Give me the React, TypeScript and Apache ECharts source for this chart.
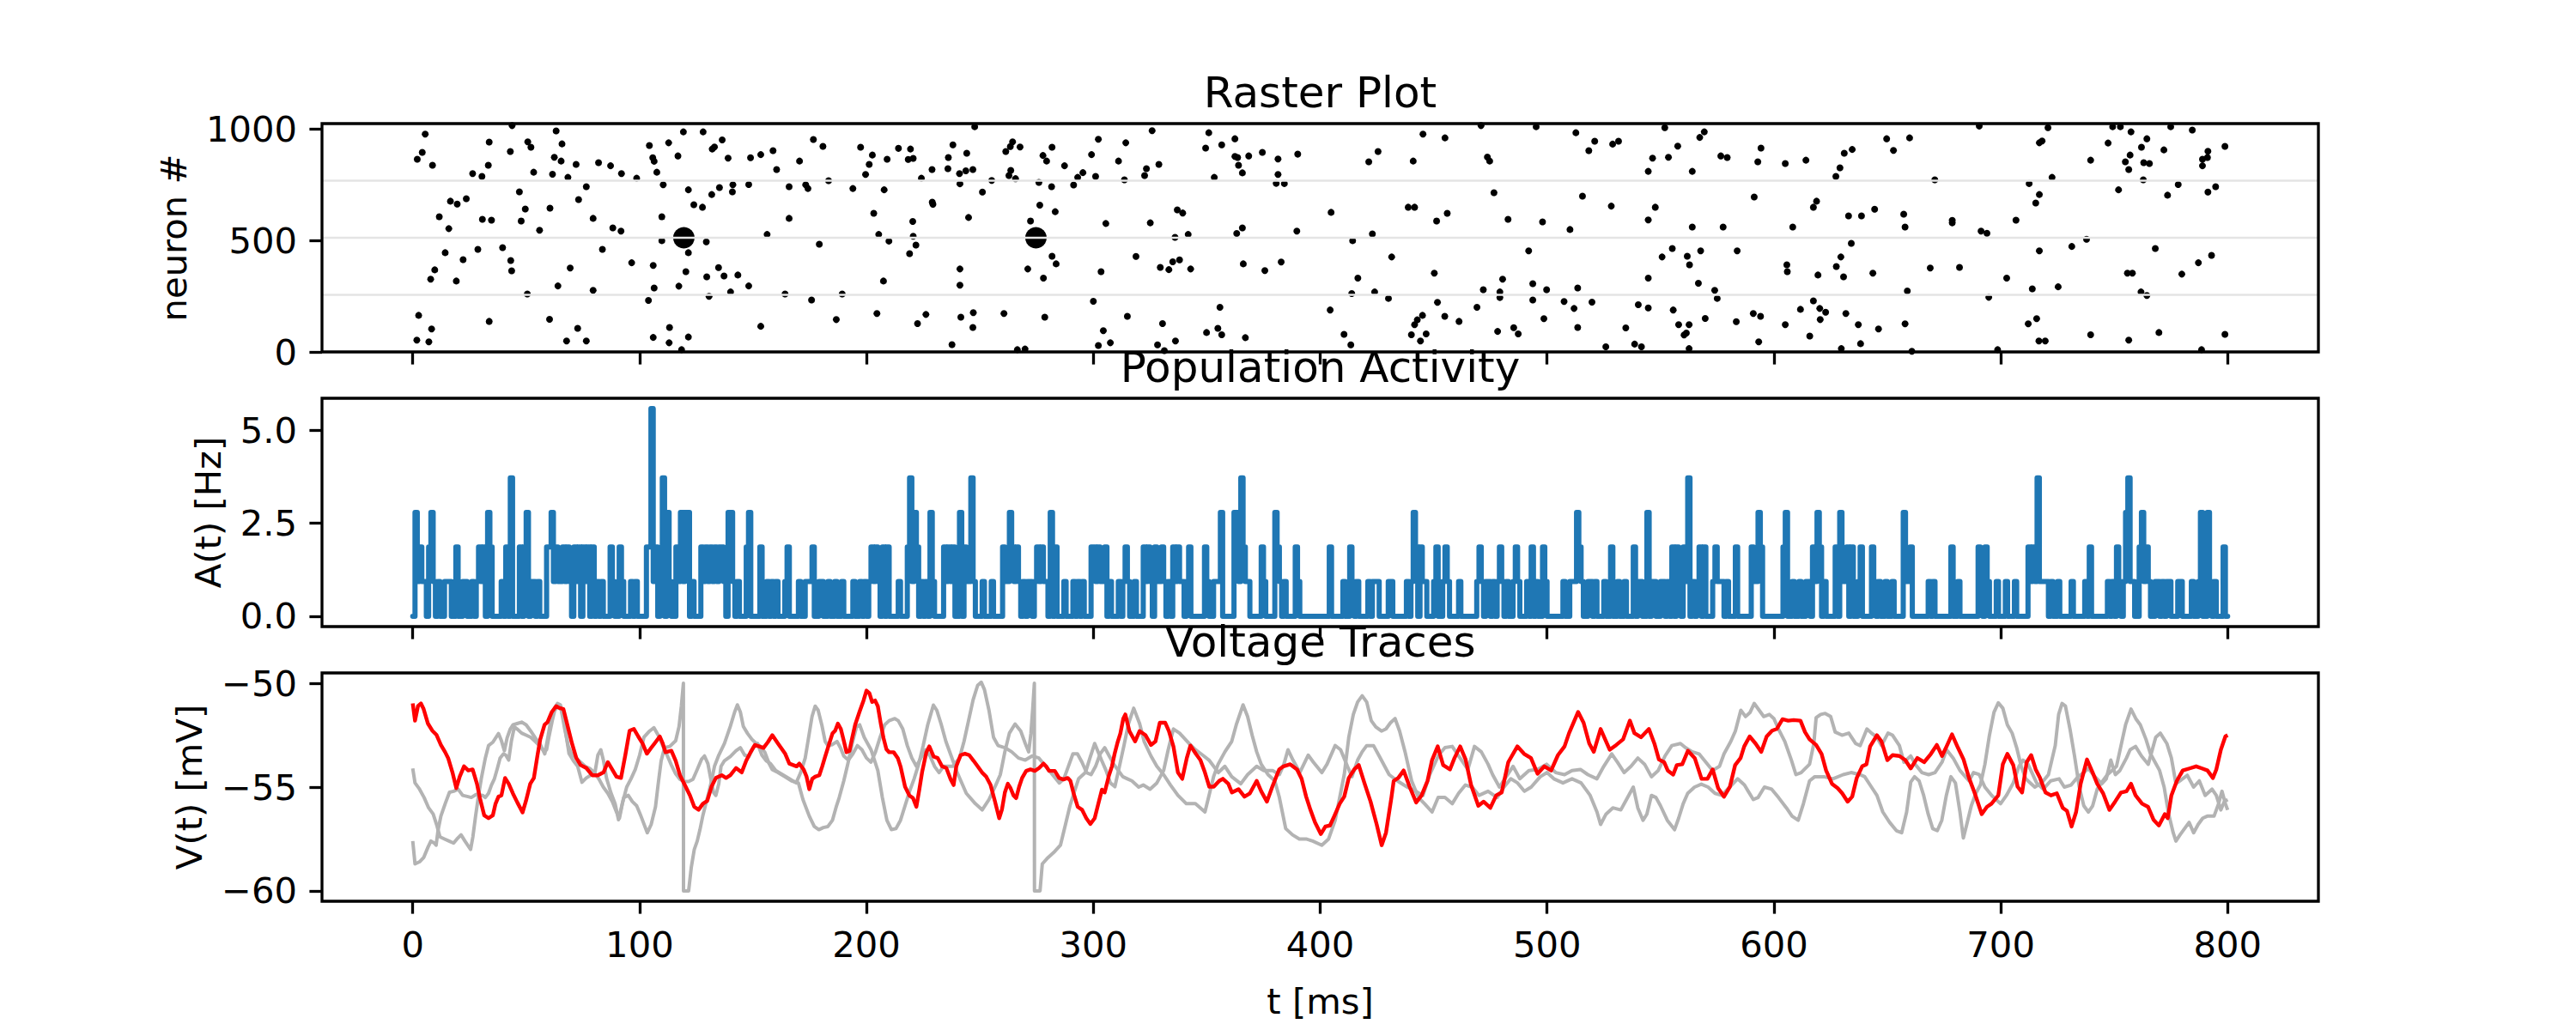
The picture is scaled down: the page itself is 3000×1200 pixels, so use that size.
import React, { useEffect, useRef } from 'react';
import * as echarts from 'echarts';

// raster plot: spike times (ms) and neuron indices
const rasterT = [
  5.5, 2, 4.2, 8.7, 2.6, 8.3, 1.8, 7.1, 11.7, 15.9, 9.7, 7.9, 14.3, 16.6, 19.6, 23.6, 22.2, 19.2, 26.4, 30.5,
  33.7, 33.3, 30.7, 34.7, 28.7, 33.7, 43.8, 43, 39.6, 43.2, 43.6, 50.7, 52.1, 47, 49.6, 47.8, 53.3, 55.9, 50.5, 60.3,
  63.2, 65.8, 62.4, 65.4, 61.6, 68.4, 60.5, 64, 69.4, 67.8, 72.7, 76.5, 72, 73.1, 76.5, 79.5, 81.9, 79.5, 83.6, 87.2,
  88.2, 91.8, 92, 96.5, 98.7, 104.3, 105.8, 106.4, 107.6, 103.9, 106, 106.4, 106, 109.8, 109.8, 110.4, 112.8, 116.9, 119.3, 121.5,
  121.5, 120.4, 117.3, 113.2, 113, 118.5, 121.5, 123.9, 127.7, 128, 129.4, 129.6, 130.6, 132, 133, 131.8, 135.2, 136.4, 139, 141.1,
  140.9, 134.8, 137.2, 143.3, 140.1, 148.1, 148.1, 148.9, 153.4, 153.4, 156.2, 158.8, 160.4, 164.1, 165.9, 165.9, 170.5, 173.2, 174.2, 176.6,
  180.8, 183.3, 179.2, 175.8, 186.7, 189.3, 194, 197.4, 199.6, 201.2, 202.6, 203.2, 205.4, 207.8, 209.1, 209.9, 207.5, 204.6, 214.1, 218.4,
  219.4, 220.6, 224.2, 229, 229.3, 220.4, 220.6, 221.8, 219, 222.5, 226.2, 228.9, 235.9, 236.1, 238.1, 241, 241.2, 241.2, 241.2, 241.6,
  237.7, 247.7, 244.2, 246.9, 243.8, 245, 247.1, 246.9, 251.1, 255.2, 260.6, 261.4, 263.4, 264.4, 267.7, 263.6, 262.8, 265.7, 266.5, 269.9,
  271.1, 272.3, 276.4, 276, 277.8, 279.4, 281.8, 281.6, 283.2, 281.8, 283.6, 278, 278.6, 287.3, 291.3, 293.1, 295.4, 299.2, 302.2, 301,
  305.5, 303.4, 300, 304.4, 302.2, 307.5, 311.1, 314.3, 313.7, 315, 318.8, 322.6, 323.4, 325.9, 328.9, 325.1, 329.5, 333.3, 335, 338,
  342.9, 336, 341.8, 337, 339.4, 330.5, 328.3, 331.3, 336.2, 349.5, 350.9, 353.3, 356.6, 362.4, 362.4, 363.6, 364, 365.7, 368.5, 374.5,
  381.4, 381.4, 380.6, 384.2, 390.1, 363.2, 365.7, 366.1, 355.8, 354.9, 349.9, 356.6, 367, 375.6, 382.8, 389.7, 404.8, 404.4, 410.5, 413.5,
  414.3, 416.6, 413.9, 423, 424, 421.4, 425.5, 430.1, 431.5, 438.8, 441.6, 441, 445.3, 455, 451.3, 456, 450.3, 451.7, 445.1, 442.8,
  441.6, 440.2, 446.7, 444.2, 454.9, 461.2, 469.1, 470.9, 473.7, 474.7, 476.6, 471.9, 479.2, 479.2, 480.4, 482.8, 478.2, 485.3, 487.3, 491.9,
  493.7, 493.7, 495.2, 498, 499.8, 498.6, 507.5, 510.1, 511.9, 513.5, 513.5, 512.7, 515.6, 518.4, 521, 519.8, 528.3, 528.9, 531.5, 534.7,
  525.9, 538.6, 541.6, 540.2, 544.6, 544.6, 544.6, 544.6, 551.9, 546.5, 547.7, 553.5, 557.6, 567.3, 569.3, 564, 555.2, 550.7, 561.8, 562.8,
  567.7, 566.7, 573.9, 575, 555.6, 558, 562.6, 561.4, 560.4, 562.6, 569.7, 564, 577.6, 576.6, 579.4, 583.8, 583.4, 590.9, 594.1, 593.3,
  591.3, 594.3, 592.9, 605, 614.1, 605, 605.7, 605.9, 608.3, 617.4, 618.8, 617.4, 611.7, 615.8, 620.2, 620.4, 622.8, 619.4, 627.5, 629.5,
  630.7, 634.1, 629.1, 627.3, 631, 634.5, 632.9, 638.6, 644.4, 631.7, 637.2, 638.2, 629.7, 643.6, 646.1, 649.7, 652.7, 659.8, 657.2, 657.8,
  658.8, 657.8, 660.8, 668.9, 670.9, 678.6, 678.6, 681.8, 690.5, 691.3, 693.9, 694.7, 698.6, 702.6, 706.7, 712.1, 713.9, 712.5, 715.4, 717,
  717, 715.8, 716.8, 719.6, 717, 718.2, 720.8, 722.6, 725.3, 731.3, 737.8, 739.6, 739.6, 747.3, 749.3, 752.7, 751.9, 754.9, 756.4, 757,
  757.4, 762, 763, 764.4, 765.5, 762.8, 755.8, 758, 761.8, 764.4, 756.4, 768.1, 769.7, 771.9, 773.5, 774.9, 778.2, 779.8, 784.4, 787.1,
  788.9, 788.9, 791.3, 791.1, 791.3, 792.9, 794.7, 788.5, 798.8, 798.8,
];
const rasterN = [
  977, 864, 895, 837, 164, 103, 53, 45, 606, 553, 368, 326, 445, 676, 663, 687, 414, 318, 800, 787,
  941, 837, 595, 591, 460, 137, 1015, 899, 468, 410, 364, 942, 918, 718, 641, 587, 806, 546, 260, 146,
  991, 933, 873, 856, 797, 783, 645, 296, 376, 49, 106, 49, 841, 683, 741, 599, 849, 276, 460, 835,
  556, 542, 800, 400, 779, 926, 871, 855, 806, 231, 388, 287, 65, 606, 499, 750, 938, 879, 987, 727,
  445, 360, 295, 110, 41, 10, 67, 660, 649, 987, 494, 337, 249, 910, 919, 706, 737, 951, 869, 750,
  718, 378, 341, 345, 269, 751, 296, 871, 885, 115, 527, 903, 818, 260, 741, 599, 856, 750, 733, 953,
  922, 768, 483, 233, 145, 260, 733, 918, 796, 841, 883, 622, 527, 727, 864, 497, 318, 172, 913, 863,
  910, 868, 779, 672, 662, 585, 519, 479, 441, 127, 168, 818, 822, 872, 929, 800, 754, 372, 299, 156,
  33, 1010, 891, 818, 812, 603, 176, 110, 717, 769, 172, 899, 921, 942, 919, 814, 791, 777, 10, 13,
  372, 587, 658, 760, 881, 856, 918, 741, 629, 429, 395, 331, 156, 835, 749, 783, 804, 885, 954, 787,
  576, 360, 227, 95, 29, 41, 856, 938, 772, 160, 428, 791, 822, 992, 841, 579, 379, 369, 404, 413,
  372, 514, 527, 637, 623, 127, 32, 6, 49, 914, 983, 783, 929, 956, 877, 872, 837, 803, 879, 895,
  865, 796, 756, 755, 887, 531, 556, 395, 200, 106, 87, 77, 64, 365, 403, 542, 626, 188, 79, 32,
  499, 331, 262, 529, 269, 853, 899, 240, 426, 649, 649, 856, 977, 960, 587, 622, 353, 222, 164, 144,
  122, 77, 81, 49, 160, 137, 200, 1015, 874, 856, 714, 279, 269, 244, 326, 595, 92, 109, 81, 453,
  306, 233, 1010, 583, 279, 149, 226, 549, 195, 287, 110, 983, 699, 903, 945, 223, 654, 932, 945, 108,
  23, 35, 23, 212, 810, 592, 331, 197, 1006, 869, 649, 873, 923, 962, 987, 810, 464, 426, 429, 391,
  453, 308, 276, 240, 188, 122, 122, 85, 76, 15, 150, 560, 560, 879, 872, 453, 136, 172, 160, 45,
  695, 914, 853, 845, 860, 122, 391, 360, 560, 649, 676, 229, 191, 71, 195, 145, 178, 345, 383, 426,
  337, 487, 826, 787, 891, 908, 610, 610, 640, 172, 122, 37, 15, 353, 103, 956, 904, 960, 618, 560,
  273, 126, 3, 376, 772, 590, 579, 379, 1013, 542, 532, 245, 10, 331, 591, 126, 283, 755, 668, 706,
  453, 149, 49, 49, 938, 946, 1006, 783, 292, 473, 505, 860, 77, 937, 1010, 1010, 727, 853, 818, 883,
  987, 918, 849, 956, 845, 772, 353, 353, 269, 253, 53, 464, 87, 906, 703, 1010, 751, 349, 995, 400,
  864, 835, 900, 872, 717, 433, 741, 10, 922, 79,
];
// spikes of the recorded neuron (drawn larger)
const tracedSpikeT = [119.5, 274.7];
const tracedSpikeN = [512, 512];
// light horizontal lines across the raster
const rasterLines = [256, 512, 768];

// population activity: peaks above one spike per bin, read from the A(t) panel
const activityPeakT = [
  1.8, 3, 8.1, 7.5, 19.2, 29.7, 31.3, 33.3, 34.3, 41.8, 43.4, 47, 50.3, 49.5, 59.5, 60.7, 61.6, 63.6, 66, 68.4,
  71.4, 73.1, 75.9, 77.9, 79.9, 87.4, 91.8, 103.3, 104.6, 105.8, 107.2, 110, 110.8, 112.8, 116.9, 118.7, 120.5, 121.9, 127.5, 129.4,
  131.4, 133, 135.4, 136.8, 139.9, 140.9, 147.3, 148.3, 153.4, 165.7, 176, 202.4, 204.8, 207.7, 209.7, 218.6, 219.8, 221.6, 222.6, 228.5,
  234.5, 236.5, 238.5, 241, 243.6, 246.9, 260.4, 263, 264.4, 266, 275.6, 277.2, 281.6, 283, 299, 300.6, 302.6, 305, 314.3, 322.8,
  324.2, 327.7, 330.9, 335.2, 337.6, 342.6, 349.5, 356, 362.4, 363.8, 365.7, 366.6, 374.9, 380.8, 381.6, 389.7, 404.4, 413.5, 441, 442.6,
  444.9, 451.1, 455, 470.9, 479.2, 486.5, 493.3, 498, 513.1, 514, 528.3, 538.6, 544.6, 555.2, 557.2, 562, 560.8, 567.1, 569.1, 574.3,
  583.4, 590.5, 593.3, 594.5, 604.4, 605.5, 617.2, 619.6, 620.2, 627.5, 629.5, 632.1, 634.1, 638.4, 643.6, 657.4, 660.2, 678.6, 690.5, 693.9,
  712.1, 714.7, 716.6, 739.6, 751.9, 755.8, 756.6, 761.2, 762.2, 764.8, 788.3, 791.3, 788.9, 798.8,
];
const activityPeakN = [
  3, 2, 3, 2, 2, 2, 2, 3, 2, 2, 4, 2, 3, 2, 2, 2, 3, 2, 2, 2,
  2, 2, 2, 2, 2, 2, 2, 2, 2, 6, 2, 4, 2, 3, 2, 3, 3, 3, 2, 2,
  2, 2, 2, 2, 3, 3, 2, 3, 2, 2, 2, 2, 2, 2, 2, 2, 4, 3, 2, 3,
  2, 2, 2, 3, 2, 4, 2, 3, 2, 2, 2, 2, 3, 2, 2, 2, 2, 2, 2, 2,
  2, 2, 2, 2, 2, 2, 2, 3, 3, 3, 4, 2, 2, 3, 2, 2, 2, 2, 3, 2,
  2, 2, 2, 2, 2, 2, 2, 2, 3, 2, 2, 2, 3, 2, 2, 4, 2, 2, 2, 2,
  2, 2, 3, 2, 2, 3, 2, 3, 2, 2, 3, 2, 2, 2, 2, 3, 2, 2, 2, 2,
  2, 2, 4, 2, 2, 3, 4, 2, 3, 2, 3, 3, 2, 2,
];
const activityUnit = 0.93; // Hz per spike in a bin

// voltage traces [t (ms), V (mV)]
const traceRed = [
  [0, -50.97], [1, -51.8], [2.3, -51.1], [3.6, -50.97], [4.8, -51.24], [6.7, -51.94], [8.6, -52.28], [10.5, -52.49], [12.4, -52.97], [14.3, -53.32],
  [15.6, -53.6], [17.5, -54.29], [19.2, -55.05], [20.7, -54.5], [22.6, -54.0], [24.5, -54.2], [26.4, -54.15], [28.3, -54.84], [29.6, -55.53], [31.5, -56.36],
  [33.4, -56.5], [35.3, -56.36], [36.5, -55.8], [37.8, -55.46], [39.1, -55.4], [40.7, -54.56], [42.3, -54.84], [44.2, -55.32], [46.1, -55.74], [48.4, -56.22],
  [49.9, -55.67], [51.8, -54.84], [53.4, -54.56], [55, -53.46], [56.2, -52.7], [58.1, -52.0], [59.4, -51.87], [61.3, -51.38], [63.2, -51.1], [64.5, -51.18],
  [66.4, -51.24], [68.3, -52.07], [70.2, -52.9], [72.1, -53.6], [74, -53.94], [76.5, -54.08], [79.1, -54.43], [81.6, -54.43], [84.1, -54.29], [86, -53.8],
  [87.9, -54.15], [89.8, -54.5], [91.8, -54.56], [93.7, -53.46], [95.6, -52.28], [97.5, -52.2], [99.4, -52.56], [101.3, -52.9], [103.2, -53.39], [105.1, -53.11],
  [107, -52.84], [108.9, -52.56], [110.2, -52.9], [111.4, -53.32], [114, -53.25], [115.9, -53.73], [117.8, -54.43], [120.3, -54.98], [122.2, -55.4], [124.1, -55.95],
  [126, -56.09], [127.9, -55.8], [129.8, -55.67], [131.7, -54.98], [133.6, -54.56], [136.2, -54.43], [138.1, -54.56], [140, -54.43], [142.5, -54.08], [145, -54.29],
  [147, -53.73], [148.9, -53.32], [150.8, -52.97], [152.7, -53.04], [154.6, -53.11], [156.5, -52.84], [158.5, -52.5], [161, -52.9], [164.2, -53.4], [166, -53.87],
  [169.2, -54.0], [170.4, -53.87], [172.3, -54.15], [173.6, -54.5], [174.8, -55.1], [176.1, -54.6], [177.4, -54.5], [179.2, -54.43], [180.5, -54.0], [181.8, -53.53],
  [183.6, -52.9], [185, -52.42], [186.2, -52.28], [187.4, -51.94], [188.7, -52.2], [190, -52.77], [191.2, -53.32], [192.5, -53.25], [193.7, -52.63], [195, -52.0],
  [196.9, -51.38], [198.7, -50.83], [200, -50.35], [201.3, -50.48], [202.5, -50.9], [203.8, -50.83], [205, -51.1], [206.3, -51.94], [207.5, -52.63], [208.8, -53.18],
  [210, -53.32], [212, -53.32], [213.8, -53.6], [215, -54.0], [217, -54.98], [218.9, -55.4], [220.5, -55.53], [222, -55.95], [223.3, -55.12], [224.5, -54.29],
  [226.4, -53.32], [227.7, -53.04], [229.6, -53.53], [231.4, -53.6], [233.3, -54.0], [235.2, -54.08], [237.1, -54.63], [238.4, -54.9], [239.6, -54.0], [241.5, -53.46],
  [243.4, -53.39], [245.3, -53.46], [247.2, -53.73], [249, -54.0], [250.9, -54.29], [252.8, -54.5], [254.7, -54.9], [256.6, -55.67], [258.5, -56.5], [259.7, -56.09],
  [261, -55.26], [262.3, -54.84], [263.5, -55.05], [264.8, -55.4], [266, -55.53], [267.3, -54.98], [268.6, -54.56], [270.4, -54.22], [272.3, -54.15], [274.2, -54.22],
  [276.1, -54.08], [278, -53.87], [279.2, -54.0], [280.5, -54.22], [283, -54.22], [284.9, -54.56], [286.8, -54.63], [288.7, -54.56], [289.9, -54.7], [291.2, -55.26],
  [293.1, -55.95], [295, -56.09], [296.9, -56.5], [298.7, -56.78], [300.6, -56.5], [302.5, -55.67], [303.8, -55.12], [305, -55.26], [306.9, -54.43], [308.2, -54.0],
  [309.4, -53.39], [310.7, -52.84], [311.9, -52.42], [313.2, -51.7], [314.1, -51.5], [315.9, -52.3], [318.4, -52.8], [320.4, -52.3], [323, -52.5], [325.4, -52.97],
  [327.4, -52.8], [329.3, -51.9], [331.7, -51.9], [333.3, -52.3], [335.3, -53.04], [337.3, -54.3], [339.2, -54.6], [341.2, -53.6], [342.8, -53.0], [345.2, -53.4],
  [347.2, -53.7], [349.2, -54.3], [351.1, -54.98], [353.1, -54.98], [355.5, -54.7], [357.1, -54.6], [359.5, -54.84], [361.1, -55.26], [364, -55.1], [366.6, -55.46],
  [369, -55.3], [372, -54.7], [374, -55.2], [376.5, -55.7], [378.9, -54.98], [381.9, -54.15], [383.8, -54.0], [386.8, -53.9], [389.8, -54.15], [391.8, -54.6],
  [393.8, -55.46], [395.7, -56.1], [397.7, -56.7], [400.3, -57.26], [402.3, -56.9], [404.3, -56.85], [406.2, -56.4], [408.6, -55.8], [410.6, -55.46], [412.6, -54.56],
  [415, -54.15], [417, -53.94], [419.6, -54.84], [422.2, -55.7], [424.9, -56.8], [427.1, -57.8], [429, -57.2], [431.4, -55.5], [432.4, -54.7], [434.4, -54.56],
  [436.8, -54.2], [439.4, -54.98], [442.3, -55.74], [444.7, -55.4], [447.3, -54.7], [449.3, -53.7], [451.8, -53.04], [454.2, -53.94], [457.2, -54.15], [459.2, -53.6],
  [461.7, -53.04], [464.1, -53.67], [466.5, -54.9], [469.7, -55.9], [472, -55.7], [475, -56.0], [477.6, -55.4], [480, -55.26], [482.9, -53.8], [486.9, -53.04],
  [489.9, -53.4], [492.9, -53.6], [495.8, -54.36], [498.8, -54.0], [501.8, -54.2], [504.8, -53.46], [507.7, -53.04], [509.7, -52.4], [513.7, -51.38], [516.1, -51.9],
  [518.6, -52.9], [520.6, -53.3], [523.6, -52.2], [525.6, -52.7], [527.6, -53.2], [530.5, -52.97], [533.5, -52.7], [536.5, -51.8], [538.5, -52.4], [541.4, -52.6],
  [544.9, -52.2], [547.3, -52.9], [549.3, -53.67], [551.6, -53.8], [553.2, -54.2], [555.6, -54.4], [557.2, -53.94], [559.6, -53.9], [562.1, -53.25], [565.1, -53.6],
  [568.1, -54.6], [570.7, -54.6], [573, -54.15], [575.4, -55.05], [578, -55.46], [580.6, -54.98], [582.9, -53.94], [585.3, -53.6], [586.9, -53.04], [589.3, -52.56],
  [591.9, -52.9], [594.4, -53.3], [596.8, -52.56], [599.2, -52.28], [601.2, -52.2], [603.8, -51.73], [606.3, -51.8], [608.7, -51.77], [611.7, -51.8], [613.7, -52.35],
  [615.7, -52.7], [618.6, -52.97], [621, -53.4], [623, -54.2], [625.6, -54.84], [628.1, -55.05], [630.1, -55.3], [632.5, -55.7], [634.5, -55.46], [636.5, -54.56],
  [638.9, -54.0], [640.8, -53.9], [642.4, -53.04], [645.4, -52.5], [647.4, -52.8], [650, -53.7], [652.3, -53.46], [655.3, -53.5], [657.9, -53.7], [660.3, -54.1],
  [663.2, -53.6], [666.2, -53.8], [669.2, -53.4], [671.8, -52.97], [674.1, -53.5], [676.1, -53.04], [678.5, -52.46], [681.1, -53.1], [683.6, -53.67], [686, -54.56],
  [688.4, -55.26], [691.6, -56.3], [693.9, -55.95], [695.9, -55.8], [698.9, -55.4], [700.9, -53.9], [702.9, -53.4], [705.5, -53.94], [707.4, -54.98], [709.4, -55.26],
  [711.4, -53.8], [713.4, -53.46], [715.4, -54.15], [717.3, -54.56], [719.7, -55.26], [722.1, -55.4], [724.7, -55.3], [727.3, -56.0], [729.2, -56.15], [731.2, -56.9],
  [733.2, -56.2], [735.2, -54.84], [738, -53.67], [740.5, -54.3], [742.5, -54.84], [745.1, -55.3], [747.9, -56.1], [750.4, -55.7], [753, -55.26], [755.4, -55.2],
  [757.4, -54.84], [759.4, -55.4], [762.3, -55.8], [764.9, -55.95], [767.3, -56.57], [769.7, -56.85], [772.3, -56.3], [773.6, -56.5], [775.2, -55.4], [777.6, -54.7],
  [780.2, -54.2], [783.2, -54.1], [786.1, -54.0], [788.7, -54.1], [791.1, -54.2], [793.5, -54.56], [795, -54.15], [797, -53.2], [799, -52.56], [800, -52.5],
];
const traceGrayA = [
  [0, -54.1], [1, -54.8], [3, -55.1], [5, -55.5], [7, -56.0], [9, -56.3], [10.5, -56.8], [12, -57.4], [14, -57.5], [16, -57.6],
  [18, -57.7], [19.5, -57.5], [21.3, -57.3], [23, -57.6], [25.5, -58.0], [26.5, -57.4], [27.7, -56.4], [29, -55.4], [30.2, -54.6], [32, -53.6],
  [33.4, -53.0], [35.3, -52.84], [37.8, -52.42], [39.1, -52.77], [40.4, -53.25], [41.6, -52.63], [43, -52.2], [44.2, -52.0], [46, -51.94], [48, -51.87],
  [50, -52.0], [52, -52.3], [54, -52.63], [56, -52.9], [58.2, -53.4], [59.4, -52.7], [60.6, -51.94], [62.6, -51.18], [63.8, -50.97], [65.1, -51.04],
  [66.4, -51.66], [67.6, -52.49], [68.9, -53.39], [70.8, -53.73], [72.7, -54.0], [74.6, -54.77], [76.5, -54.56], [78.4, -54.43], [80.3, -54.3], [81.6, -53.46],
  [82.9, -53.2], [84.1, -53.73], [85.4, -54.56], [87.3, -55.26], [89.2, -55.8], [90.7, -56.57], [93, -55.5], [95, -55.4], [96.8, -55.7], [98.7, -55.9],
  [100.6, -56.4], [103.4, -57.2], [105.1, -56.8], [107, -55.95], [108.2, -54.84], [109.5, -53.73], [111, -53.1], [113.3, -53.04], [115.9, -52.77], [117.4, -52.07],
  [118.4, -51.1], [119.3, -50], [119.35, -60], [121.6, -60], [122.8, -58.85], [124.1, -58.0], [125.4, -57.6], [126.6, -57.05], [127.9, -56.36], [129.2, -55.8],
  [130.5, -55.26], [131.7, -54.7], [133, -54.0], [134.9, -53.46], [137.4, -52.9], [140, -52.07], [141.9, -51.38], [143.1, -51.04], [144.4, -51.38], [145.7, -52.07],
  [147.6, -52.42], [149.5, -52.7], [151.4, -52.9], [153.3, -53.04], [155.2, -53.32], [157.1, -53.87], [158.4, -54.15], [161, -54.3], [164, -54.5], [167, -54.7],
  [170, -54.8], [172, -55.6], [174.8, -56.4], [177, -56.9], [179, -57.05], [181, -56.95], [183, -56.9], [185, -56.6], [186.8, -55.9], [188, -55.5],
  [190, -54.7], [191.8, -53.87], [193.7, -52.9], [195.6, -52.1], [197, -52.0], [199, -52.6], [202, -53.2], [205, -54.2], [207, -55.5], [209, -56.6],
  [211, -57.05], [213, -57.0], [215, -56.6], [217, -55.9], [219, -55.2], [221, -54.6], [223, -53.9], [225, -53.0], [227, -52.0], [229.5, -51.05],
  [231, -51.3], [233, -52.0], [235, -52.8], [237, -53.4], [240, -54.3], [244, -55.3], [248, -55.8], [251, -56.1], [254, -55.6], [257, -54.9],
  [259, -54.4], [261, -53.3], [263, -52.4], [265.5, -51.96], [268, -52.3], [270, -52.9], [271.5, -53.3], [272.5, -52.4], [273.3, -51.2], [274, -50],
  [274.05, -60], [276.5, -60], [277.5, -58.7], [280, -58.4], [283, -58.1], [285.5, -57.8], [287.5, -56.9], [289.7, -55.9], [291.7, -55.2], [293.5, -54.6],
  [296.5, -54.3], [298.5, -53.6], [300.6, -52.9], [303.6, -53.7], [305.6, -54.2], [307.5, -54.8], [309.5, -54.98], [311.5, -54.0], [313.5, -53.0], [315.5, -51.94],
  [317.8, -51.2], [320.4, -51.94], [322.4, -52.8], [325.4, -53.5], [328, -54.0], [331, -54.4], [334, -54.9], [337.3, -55.4], [341, -55.8], [345, -55.8],
  [349.2, -56.2], [351, -55.4], [353, -54.5], [355, -53.9], [358, -53.3], [361, -52.8], [363, -52.0], [366, -51.04], [368, -51.6], [370, -52.5],
  [372, -53.3], [374, -53.9], [377, -54.4], [380, -54.7], [382, -55.5], [384.8, -57.0], [387.8, -57.3], [390.8, -57.5], [393.8, -57.5], [396.7, -57.6],
  [400.7, -57.8], [403.7, -57.5], [406.6, -56.6], [408.6, -55.5], [410.6, -54.4], [412.6, -52.6], [414.6, -51.5], [416.5, -50.9], [418.5, -50.6], [420.5, -50.9],
  [422.5, -51.8], [424.5, -52.1], [427, -52.3], [429, -52.2], [431, -51.9], [433, -51.7], [435, -52.3], [437.4, -53.3], [440.3, -54.7], [443.3, -55.5],
  [446, -55.8], [449.3, -56.2], [452, -55.5], [455, -55.5], [458.2, -55.8], [461, -55.3], [464, -54.9], [467, -55.0], [470, -55.4], [474, -55.2],
  [478, -55.5], [481, -55.0], [484, -54.6], [487, -54.8], [490, -55.2], [493, -55.0], [497, -54.5], [500, -54.3], [503, -54.6], [507, -54.8],
  [511, -54.6], [515, -54.8], [519, -55.4], [522, -56.2], [523.6, -56.8], [526, -56.3], [529, -56.0], [532.5, -56.1], [535, -55.6], [538, -55.0],
  [540, -56.0], [542.3, -56.6], [544, -56.3], [546, -55.4], [548, -55.5], [550, -55.9], [553, -56.6], [556.2, -57.05], [558, -56.5], [560, -55.8],
  [562, -55.3], [565, -55.0], [568, -54.86], [571, -55.0], [574, -55.3], [577, -55.4], [580.5, -55.0], [584, -54.6], [587, -54.9], [590.9, -55.6],
  [593, -55.5], [595.8, -55.0], [599, -55.1], [602, -55.5], [605.5, -56.0], [608, -56.4], [610.7, -56.6], [613, -55.8], [615.7, -54.7], [618, -54.5],
  [622, -54.5], [626, -54.6], [630.5, -54.4], [634, -54.3], [638, -54.4], [640, -54.5], [643, -55.0], [645.4, -55.4], [648, -56.2], [651, -56.7],
  [654, -57.1], [656.3, -57.2], [658.5, -56.2], [660.3, -54.76], [662, -54.5], [664, -54.7], [666, -55.4], [668, -56.3], [670, -57.0], [672, -57.1],
  [674, -56.6], [676, -55.4], [678, -54.5], [680, -54.8], [682, -56.2], [683.5, -57.45], [685, -56.8], [687, -55.9], [689, -55.3], [691, -54.9],
  [693, -53.9], [695, -52.5], [697, -51.4], [698.9, -50.94], [700.9, -51.2], [702.9, -52.0], [705, -52.4], [707, -53.1], [709, -54.0], [711, -54.6],
  [713, -54.8], [715, -55.0], [718, -54.8], [721, -54.4], [724, -53.0], [725.5, -51.5], [727, -50.97], [728.5, -51.1], [730.5, -52.2], [732.5, -53.5],
  [734.6, -55.0], [736.6, -55.9], [738.6, -56.2], [740.5, -55.9], [742.5, -55.1], [745, -54.7], [747, -54.4], [749, -54.2], [751, -54.0], [753, -53.0],
  [755, -52.0], [757.4, -51.24], [759.5, -51.7], [761.5, -52.0], [764, -52.7], [766, -53.4], [768, -53.8], [770, -54.2], [772, -55.0], [774, -56.3],
  [776, -57.2], [777.2, -57.6], [779, -57.3], [781, -57.0], [783, -56.7], [785, -57.2], [787, -56.8], [789, -56.5], [791, -56.4], [794, -56.4],
  [796, -55.8], [797.5, -55.2], [799, -55.8], [800, -56.1],
];
const traceGrayB = [
  [0, -57.6], [1, -58.7], [3, -58.6], [4.8, -58.4], [6.7, -57.9], [8, -57.6], [9.5, -57.7], [10.3, -57.8], [11.2, -57.05], [12.4, -56.4],
  [14.3, -55.8], [16.2, -55.25], [18, -55.2], [20, -55.1], [22, -55.4], [24, -55.45], [25.8, -55.5], [28, -55.35], [30.8, -55.4], [32, -55.5],
  [33.4, -55.3], [34.7, -54.9], [36, -54.6], [37.3, -54.1], [38.5, -53.6], [40, -53.4], [41, -53.46], [42.3, -53.7], [43.5, -52.77], [44.8, -52.1],
  [46, -52.2], [48, -52.4], [50, -52.5], [52, -52.6], [54, -52.8], [56.2, -53.04], [58, -53.3], [59, -53.2], [60, -52.6], [61.5, -51.8],
  [62.6, -51.3], [64, -51.1], [65.5, -51.3], [67, -52.2], [68.5, -53.0], [70, -53.4], [72, -53.6], [74, -53.8], [76, -54.0], [78, -54.1],
  [80, -54.3], [82, -54.6], [84, -55.0], [86, -55.3], [88, -55.7], [89.8, -56.2], [91.1, -56.5], [92.4, -55.8], [94.3, -55.0], [96.2, -54.6],
  [98.1, -54.15], [100, -53.46], [101.9, -52.6], [104.4, -52.3], [106.3, -52.14], [108.2, -52.5], [110.2, -53.0], [112.1, -53.46], [114, -53.94], [115.9, -54.36],
  [117.8, -54.63], [119.7, -54.73], [121.6, -54.73], [123.5, -54.63], [125.4, -54.15], [127.3, -53.66], [128.6, -53.5], [130.1, -53.87], [131.3, -54.56], [132.6, -55.26],
  [133.6, -55.4], [134.9, -54.84], [135.9, -54.0], [137.4, -53.73], [140, -53.53], [142.5, -53.25], [144.4, -53.1], [146.3, -53.46], [148.2, -53.53], [150.1, -53.1],
  [152, -52.9], [153.9, -53.46], [155.8, -53.73], [157.7, -53.87], [160, -54.2], [163, -54.4], [166, -54.6], [169, -54.8], [171, -54.3], [173, -53.6],
  [174.5, -52.6], [176, -51.6], [177.4, -51.1], [178.7, -51.3], [180.3, -52.0], [181.8, -52.8], [183, -53.0], [185, -52.95], [187, -52.8], [188.5, -53.1],
  [190, -53.5], [192, -53.7], [194, -53.4], [196, -53.0], [198, -53.2], [200, -53.6], [202, -53.8], [204, -53.3], [206, -52.6], [208, -52.0],
  [210, -51.8], [212.5, -51.7], [214, -51.8], [216, -52.2], [218, -53.0], [220, -53.6], [222, -54.0], [224, -53.6], [226, -53.2], [228, -53.5],
  [230, -54.0], [232, -54.3], [234, -54.0], [238, -54.0], [241, -53.6], [243, -52.8], [245, -51.8], [247, -50.8], [249, -50.1], [250.6, -49.95],
  [252, -50.3], [254, -51.3], [256, -52.6], [258, -53.0], [261, -53.1], [264, -53.3], [267, -53.6], [270, -53.7], [273, -53.5], [276, -53.6],
  [279, -54.0], [282, -54.4], [285, -54.8], [287, -54.6], [289, -54.0], [291, -53.4], [293, -53.4], [295, -53.8], [297, -54.3], [299, -54.4],
  [301, -54.0], [303, -53.4], [305, -53.1], [307, -53.5], [309, -53.9], [311, -54.2], [313, -54.5], [315, -54.6], [317, -54.7], [320, -55.0],
  [322, -54.9], [325, -55.1], [328, -54.8], [331, -54.2], [333, -53.2], [335.3, -52.2], [338, -52.4], [342.2, -52.9], [345, -53.2], [348.2, -53.46],
  [351, -53.7], [355.1, -54.3], [358, -54.0], [361, -54.5], [365, -54.84], [368, -54.4], [372, -54.0], [375, -54.2], [379, -54.2], [382, -54.4],
  [384, -53.9], [385.8, -53.2], [388, -53.7], [391, -54.3], [394.7, -53.46], [397, -53.8], [400.7, -54.3], [403, -53.9], [406.6, -53.0], [409, -53.2],
  [412, -54.0], [414, -54.5], [416.5, -53.7], [418.5, -53.3], [420.5, -53.0], [423.5, -53.0], [426, -53.5], [430.4, -54.4], [434, -54.7], [438.4, -55.0],
  [442, -55.2], [445.3, -55.4], [448.3, -54.4], [452.2, -53.46], [455, -53.1], [458.2, -53.04], [461, -53.5], [465.1, -54.15], [468, -53.04], [471, -53.3],
  [474, -53.9], [476, -54.4], [479, -55.0], [482, -54.5], [485, -54.0], [488, -54.6], [492, -54.2], [495.8, -54.15], [499.8, -53.9], [503.8, -54.3],
  [507.7, -54.4], [511, -54.2], [514.7, -54.15], [518, -54.4], [522, -54.6], [525, -54.0], [528.5, -53.4], [531, -53.8], [534, -54.3], [537, -54.0],
  [540, -53.6], [543, -53.9], [546, -54.5], [549, -54.2], [552, -53.5], [555, -53.0], [558.8, -52.9], [561, -53.1], [564, -53.3], [567, -53.4],
  [570, -53.8], [573, -54.2], [576, -54.0], [578, -53.4], [581, -52.8], [583, -52.3], [585.4, -51.3], [587.5, -51.6], [589.5, -51.4], [591.3, -50.97],
  [593.5, -51.3], [595.5, -51.6], [598, -51.5], [600, -51.7], [602, -52.2], [604.8, -52.8], [607.7, -53.7], [609.7, -54.4], [612, -54.3], [615.7, -53.9],
  [617.6, -52.9], [618.6, -51.66], [620.6, -51.5], [622.6, -51.45], [625, -51.6], [627, -52.35], [630, -52.5], [633, -52.4], [636, -52.9], [638, -53.0],
  [641, -52.2], [643, -52.4], [645.4, -52.6], [647.4, -53.0], [650.3, -52.4], [652.3, -52.5], [655.3, -53.0], [657.3, -53.8], [660.3, -53.5], [662.3, -53.9],
  [665.2, -54.3], [668.2, -54.4], [671, -54.3], [674.1, -53.8], [676.1, -53.2], [679, -53.6], [682, -54.2], [686, -54.7], [688, -54.3], [690.5, -54.4],
  [693, -55.0], [696, -55.4], [699.9, -55.8], [702.5, -55.4], [705.5, -54.8], [708, -54.0], [709.8, -53.7], [712, -53.9], [715.8, -54.8], [718.7, -55.1],
  [722, -54.7], [725.7, -54.6], [728, -55.0], [731, -54.9], [734, -54.5], [736.6, -54.3], [738.6, -54.1], [741.5, -54.5], [744.5, -54.84], [746.5, -54.6],
  [748.5, -53.7], [750.5, -54.4], [752.5, -54.2], [755.4, -53.6], [757, -53.2], [759.4, -53.04], [762, -53.5], [765, -53.9], [768.3, -52.6], [770.3, -52.4],
  [773.2, -52.9], [775.2, -53.6], [777.2, -54.84], [779, -54.7], [782.2, -54.43], [785, -55.0], [787.5, -54.7], [790.1, -55.4], [793.1, -55.1], [795, -55.4],
  [797, -56.1], [798.5, -55.7], [800, -55.6],
];

const xTicks = [0, 100, 200, 300, 400, 500, 600, 700, 800];
const rasterTicks = [0, 500, 1000];
const activityTicks = [0, 2.5, 5];
const voltageTicks = [-60, -55, -50];

const FONT = 'DejaVu Sans';
const FS = 41.7;
const GRID_LEFT = 375;
const GRID_W = 2325;
const GRID_H = 266;
const GRID_TOPS = [144, 464, 784];
const TITLES = ['Raster Plot', 'Population Activity', 'Voltage Traces'];

export default function App() {
  const chartRef = useRef<HTMLDivElement>(null);

  useEffect(() => {
    if (!chartRef.current) return;
    const chart = echarts.init(chartRef.current, null, { renderer: 'svg' });

    // bin the activity at 1 ms: one spike per bin from the raster, peaks from the A(t) panel
    const bins = new Array(800).fill(0);
    [...rasterT, ...tracedSpikeT].forEach((t) => {
      const b = Math.floor(t);
      if (b >= 0 && b < 800) bins[b] = Math.max(bins[b], 1);
    });
    activityPeakT.forEach((t, i) => {
      const b = Math.floor(t);
      if (b >= 0 && b < 800) bins[b] = Math.max(bins[b], activityPeakN[i]);
    });
    const activityData = bins.map((c, i) => [i, c * activityUnit]);
    activityData.push([800, 0]);

    const minus = (v: number) => (v < 0 ? '\u2212' + Math.abs(v) : String(v));

    const xAxis = GRID_TOPS.map((_, i) => ({
      type: 'value',
      gridIndex: i,
      min: -40,
      max: 840,
      axisLine: { show: false, onZero: false },
      splitLine: { show: false },
      axisTick: {
        show: true,
        inside: false,
        length: 14.6,
        customValues: xTicks,
        lineStyle: { color: '#000', width: 3.3 },
      },
      axisLabel: {
        show: i === 2,
        customValues: xTicks,
        margin: 29,
        fontSize: FS,
        fontFamily: FONT,
        color: '#000',
      },
      name: i === 2 ? 't [ms]' : '',
      nameLocation: 'middle',
      nameGap: 95,
      nameTextStyle: { fontSize: FS, fontFamily: FONT, color: '#000' },
    }));

    const yCommon = (i: number, name: string, gap: number) => ({
      type: 'value',
      gridIndex: i,
      axisLine: { show: false, onZero: false },
      splitLine: { show: false },
      name,
      nameLocation: 'middle',
      nameRotate: 90,
      nameGap: gap,
      nameTextStyle: { fontSize: FS, fontFamily: FONT, color: '#000' },
    });
    const tickStyle = (vals: number[]) => ({
      show: true,
      inside: false,
      length: 14.6,
      customValues: vals,
      lineStyle: { color: '#000', width: 3.3 },
    });
    const labelStyle = (vals: number[], fmt: (v: number) => string) => ({
      customValues: vals,
      margin: 29,
      fontSize: FS,
      fontFamily: FONT,
      color: '#000',
      formatter: fmt,
    });

    const yAxis = [
      {
        ...yCommon(0, 'neuron #', 152),
        min: 0,
        max: 1024,
        axisTick: tickStyle(rasterTicks),
        axisLabel: labelStyle(rasterTicks, (v) => String(v)),
      },
      {
        ...yCommon(1, 'A(t) [Hz]', 112),
        min: -0.279,
        max: 5.859,
        axisTick: tickStyle(activityTicks),
        axisLabel: labelStyle(activityTicks, (v) => v.toFixed(1)),
      },
      {
        ...yCommon(2, 'V(t) [mV]', 134),
        min: -60.5,
        max: -49.5,
        axisTick: tickStyle(voltageTicks),
        axisLabel: labelStyle(voltageTicks, minus),
      },
    ];

    const option = {
      animation: false,
      backgroundColor: '#fff',
      grid: GRID_TOPS.map((top) => ({
        left: GRID_LEFT,
        top,
        width: GRID_W,
        height: GRID_H,
        show: true,
        borderColor: '#000',
        borderWidth: 3.3,
        backgroundColor: 'transparent',
        z: 10,
      })),
      xAxis,
      yAxis,
      graphic: TITLES.map((text, i) => ({
        type: 'text',
        x: GRID_LEFT + GRID_W / 2,
        y: GRID_TOPS[i] - 36,
        z: 100,
        style: {
          text,
          fontSize: 50,
          fontFamily: FONT,
          fill: '#000',
          align: 'center',
          verticalAlign: 'middle',
        },
      })),
      series: [
        {
          type: 'scatter',
          xAxisIndex: 0,
          yAxisIndex: 0,
          symbolSize: 8,
          itemStyle: { color: '#000', opacity: 1 },
          data: rasterT.map((t, i) => [t, rasterN[i]]),
          silent: true,
        },
        {
          type: 'scatter',
          xAxisIndex: 0,
          yAxisIndex: 0,
          symbolSize: 25,
          itemStyle: { color: '#000', opacity: 1 },
          data: tracedSpikeT.map((t, i) => [t, tracedSpikeN[i]]),
          silent: true,
        },
        ...rasterLines.map((n) => ({
          type: 'line',
          xAxisIndex: 0,
          yAxisIndex: 0,
          z: 5,
          showSymbol: false,
          silent: true,
          lineStyle: { color: '#e4e4e4', width: 2.5 },
          data: [
            [-40, n],
            [840, n],
          ],
        })),
        {
          type: 'line',
          xAxisIndex: 1,
          yAxisIndex: 1,
          step: 'end',
          showSymbol: false,
          silent: true,
          lineStyle: { color: '#1f77b4', width: 6, join: 'round', cap: 'round' },
          data: activityData,
        },
        {
          type: 'line',
          xAxisIndex: 2,
          yAxisIndex: 2,
          showSymbol: false,
          silent: true,
          lineStyle: { color: '#b3b3b3', width: 4, join: 'round' },
          data: traceGrayA,
        },
        {
          type: 'line',
          xAxisIndex: 2,
          yAxisIndex: 2,
          showSymbol: false,
          silent: true,
          lineStyle: { color: '#b3b3b3', width: 4, join: 'round' },
          data: traceGrayB,
        },
        {
          type: 'line',
          xAxisIndex: 2,
          yAxisIndex: 2,
          showSymbol: false,
          silent: true,
          z: 4,
          lineStyle: { color: '#ff0000', width: 4.4, join: 'round' },
          data: traceRed,
        },
      ],
    };

    chart.setOption(option);
    return () => chart.dispose();
  }, []);

  return (
    <div
      ref={chartRef}
      style={{ position: 'absolute', left: 0, top: 0, width: '3000px', height: '1200px', background: '#fff' }}
    />
  );
}
